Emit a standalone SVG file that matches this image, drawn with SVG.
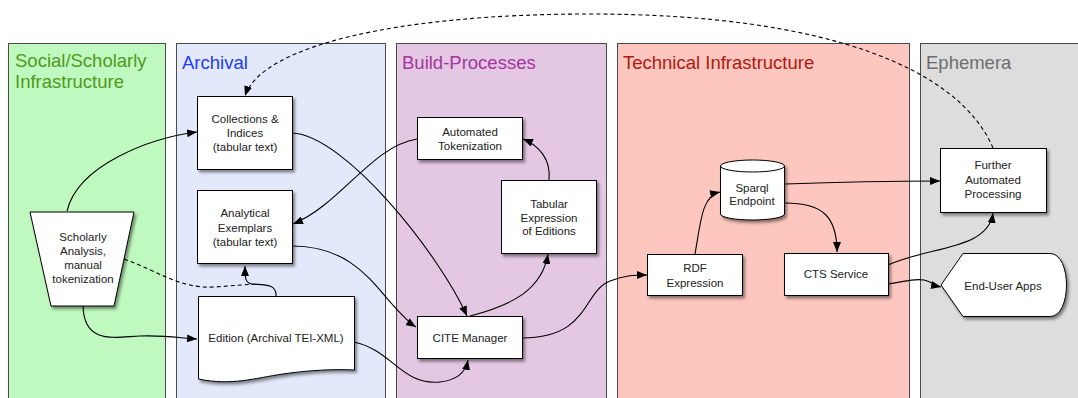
<svg xmlns="http://www.w3.org/2000/svg" width="1078" height="398" viewBox="0 0 1078 398">
  <defs>
    <filter id="shadow" x="-10%" y="-10%" width="130%" height="140%">
      <feDropShadow dx="2" dy="2.5" stdDeviation="1.5" flood-color="#000" flood-opacity="0.45"/>
    </filter>
    <marker id="arrow" viewBox="0 0 10 8" refX="10" refY="4" markerWidth="10" markerHeight="8" markerUnits="userSpaceOnUse" orient="auto">
      <path d="M0,0 L10,4 L0,8 Z" fill="#000"/>
    </marker>
  </defs>
  <style>
    .lane { stroke: #4a4a4a; stroke-width: 1; }
    .title { font-family: "Liberation Sans", Arial, sans-serif; font-size: 18.5px; }
    .node { fill: #fff; stroke: #000; stroke-width: 1; filter: url(#shadow); }
    .label { font-family: "Liberation Sans", Arial, sans-serif; font-size: 11.5px; fill: #222; text-anchor: middle; }
    .edge { fill: none; stroke: #000; stroke-width: 1.1; }
    .arrow { marker-end: url(#arrow); }
    .dashed { stroke-dasharray: 4 3; }
  </style>

  <rect width="1078" height="398" fill="#fff"/>

  <!-- swimlanes -->
  <g id="lanes">
    <rect class="lane" x="8.5" y="43.5" width="157" height="380" fill="#bff9bf"/>
    <rect class="lane" x="176.5" y="43.5" width="209" height="380" fill="#e3e9fb"/>
    <rect class="lane" x="396.5" y="43.5" width="210" height="380" fill="#e3c7e3"/>
    <rect class="lane" x="617.5" y="43.5" width="292" height="380" fill="#fdc7bf"/>
    <rect class="lane" x="920.5" y="43.5" width="180" height="380" fill="#dddddd"/>
    <text class="title" x="15" y="67" fill="#4f9a1c">Social/Scholarly</text>
    <text class="title" x="15" y="88" fill="#4f9a1c">Infrastructure</text>
    <text class="title" x="182" y="69" fill="#1a3dff">Archival</text>
    <text class="title" x="402" y="69" fill="#a4359f">Build-Processes</text>
    <text class="title" x="623" y="69" fill="#b2170f">Technical Infrastructure</text>
    <text class="title" x="926" y="69" fill="#6e6e6e">Ephemera</text>
  </g>

  <!-- connectors -->
  <g id="connectors">
    <path class="edge arrow" d="M67,211 C 78,165 150,138 197,132"/>
    <path class="edge arrow" d="M83,306 C 84,345 115,337 140,336 C 165,335 180,338 197,339"/>
    <path class="edge dashed" d="M124,259 C 160,272 180,289 215,287 L 255,284"/>
    <path class="edge arrow" d="M276,296 C 277,283 262,285 252,284 C 245,283 245,278 245,266"/>
    <path class="edge arrow" d="M417,139 C 372,146 340,205 293,224"/>
    <path class="edge arrow" d="M292,133 C 345,135 440,255 467,316"/>
    <path class="edge arrow" d="M292,246 C 350,246 372,282 392,304 C 401,314 408,322 416,327"/>
    <path class="edge arrow" d="M354,342 C 392,350 402,386 440,382 C 460,380 466,370 468,360"/>
    <path class="edge arrow" d="M470,316 C 512,305 542,290 548,254"/>
    <path class="edge arrow" d="M549,180 C 551,160 540,146 523,139"/>
    <path class="edge arrow" d="M522,338 C 590,338 582,292 610,281 C 625,275 635,275 647,275"/>
    <path class="edge arrow" d="M695,254 C 701,220 702,196 720,192"/>
    <path class="edge arrow" d="M785,203 C 822,203 837,216 837,252"/>
    <path class="edge arrow" d="M785,184 C 840,182 890,181 940,181"/>
    <path class="edge arrow" d="M888,265 C 930,246 988,250 993,213"/>
    <path class="edge arrow" d="M888,284 C 905,282 912,278 924,280 C 932,282 936,286 941,287"/>
    <path class="edge dashed arrow" d="M993,148 C 960,70 830,14 590,14 C 400,14 262,45 245,96"/>
  </g>

  <!-- nodes -->
  <g id="scholarly-analysis">
    <path class="node" d="M30,212 L134,212 L114,306 L51,306 Z"/>
    <text class="label" x="83" y="241">Scholarly</text>
    <text class="label" x="83" y="255">Analysis,</text>
    <text class="label" x="83" y="269">manual</text>
    <text class="label" x="83" y="283">tokenization</text>
  </g>

  <g id="collections-indices">
    <rect class="node" x="197.5" y="96.5" width="95" height="73"/>
    <text class="label" x="245" y="123">Collections &amp;</text>
    <text class="label" x="245" y="137">Indices</text>
    <text class="label" x="245" y="151">(tabular text)</text>
  </g>

  <g id="analytical-exemplars">
    <rect class="node" x="197.5" y="190.5" width="95" height="73"/>
    <text class="label" x="245" y="217">Analytical</text>
    <text class="label" x="245" y="232">Exemplars</text>
    <text class="label" x="245" y="246">(tabular text)</text>
  </g>

  <g id="edition">
    <path class="node" d="M198.5,296.5 L354.5,296.5 L354.5,370 C 335,369 310,370 283,374 C 255,378 232,386 198.5,379 Z"/>
    <text class="label" x="276" y="342">Edition (Archival TEI-XML)</text>
  </g>

  <g id="automated-tokenization">
    <rect class="node" x="417.5" y="117.5" width="105" height="42"/>
    <text class="label" x="470" y="136">Automated</text>
    <text class="label" x="470" y="150">Tokenization</text>
  </g>

  <g id="tabular-expression">
    <rect class="node" x="501.5" y="180.5" width="95" height="73"/>
    <text class="label" x="549" y="208">Tabular</text>
    <text class="label" x="549" y="222">Expression</text>
    <text class="label" x="549" y="235">of Editions</text>
  </g>

  <g id="cite-manager">
    <rect class="node" x="417.5" y="316.5" width="105" height="42"/>
    <text class="label" x="470" y="342">CITE Manager</text>
  </g>

  <g id="rdf-expression">
    <rect class="node" x="647.5" y="254.5" width="95" height="41"/>
    <text class="label" x="695" y="272">RDF</text>
    <text class="label" x="695" y="287">Expression</text>
  </g>

  <g id="sparql-endpoint">
    <path class="node" d="M720.5,166 L720.5,214 A32,6 0 0 0 784.5,214 L784.5,166 A32,6 0 0 0 720.5,166 Z"/>
    <path d="M720.5,166 A32,6 0 0 0 784.5,166" fill="none" stroke="#000" stroke-width="1"/>
    <text class="label" x="752" y="192">Sparql</text>
    <text class="label" x="752" y="205">Endpoint</text>
  </g>

  <g id="cts-service">
    <rect class="node" x="784.5" y="253.5" width="104" height="42"/>
    <text class="label" x="836" y="278">CTS Service</text>
  </g>

  <g id="further-processing">
    <rect class="node" x="940.5" y="148.5" width="106" height="64"/>
    <text class="label" x="993" y="169">Further</text>
    <text class="label" x="993" y="184">Automated</text>
    <text class="label" x="993" y="198">Processing</text>
  </g>

  <g id="end-user-apps">
    <path class="node" d="M941,285 L963,253.5 L1050,253.5 C 1072,253.5 1072,316.5 1050,316.5 L963,316.5 Z"/>
    <text class="label" x="1003" y="290">End-User Apps</text>
  </g>
</svg>
